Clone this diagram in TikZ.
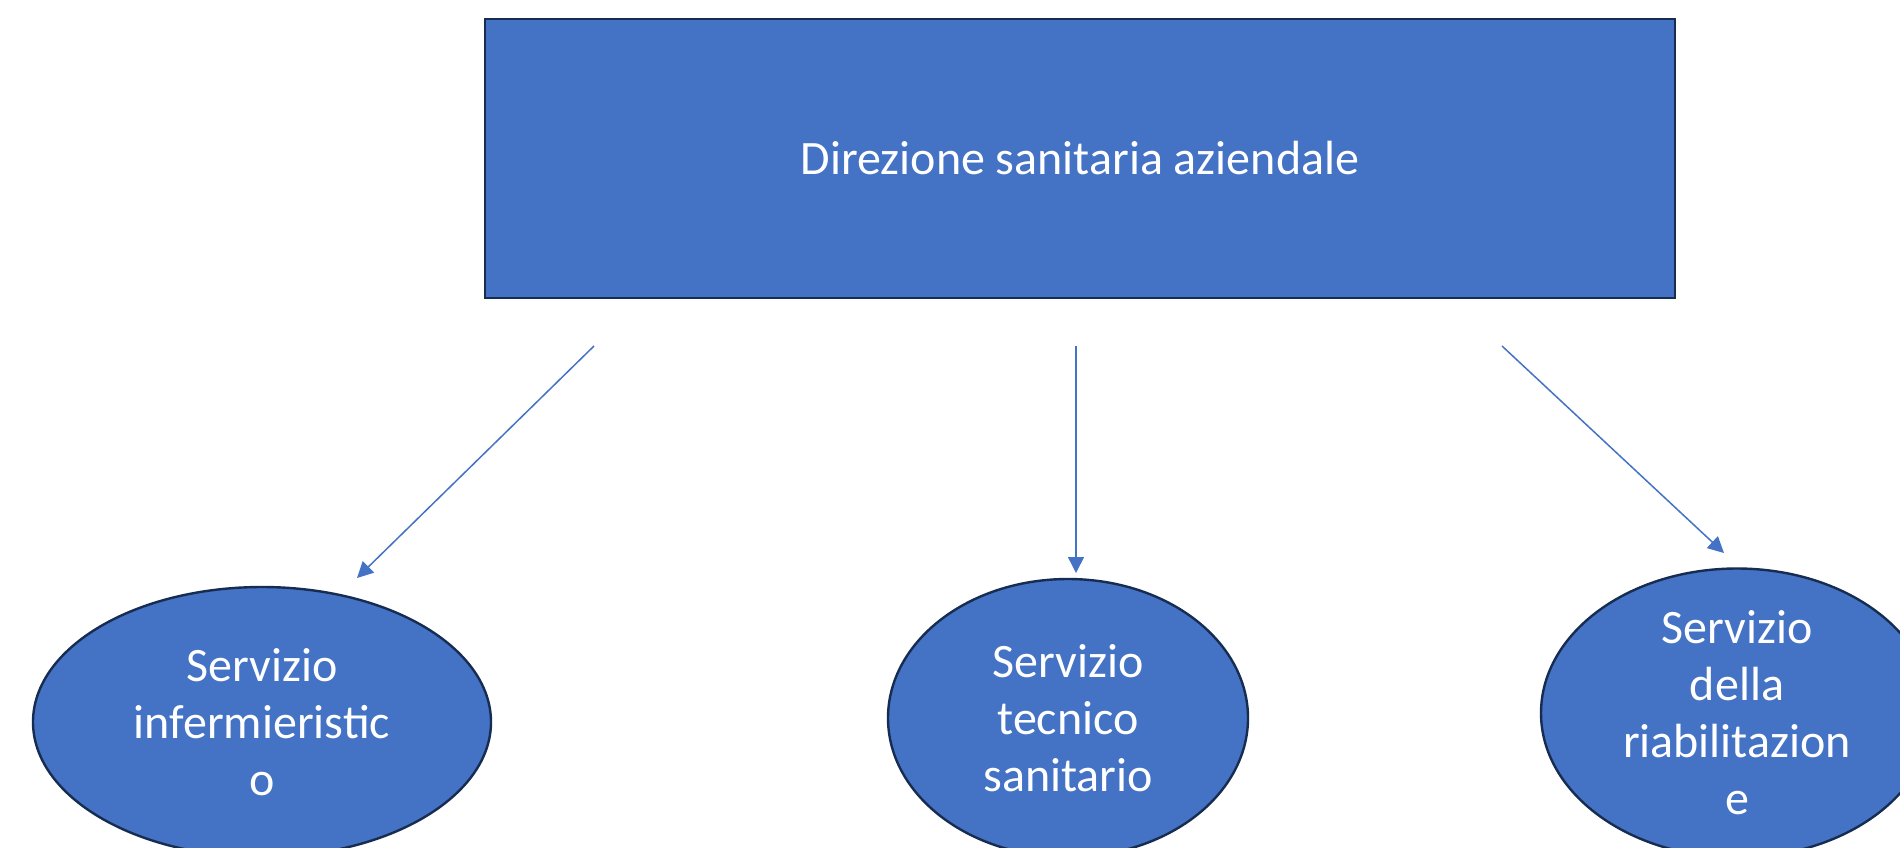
\documentclass[tikz,border=0pt]{standalone}
\usepackage{fontspec}
\setmainfont{Carlito}
\usetikzlibrary{arrows.meta,shapes.geometric}
\definecolor{boxblue}{HTML}{4472C4}
\definecolor{boxedge}{HTML}{172C51}
\tikzset{
  topbox/.style={rectangle, draw=boxedge, line width=1pt, fill=boxblue,
    minimum width=595pt, minimum height=139.5pt, inner sep=0pt,
    text=white, font=\fontsize{24}{28.5}\selectfont},
  service/.style={ellipse, draw=boxedge, line width=1.2pt, fill=boxblue,
    inner sep=0pt, text=white, align=center,
    font=\fontsize{24}{28.5}\selectfont},
  link/.style={draw=boxblue, line width=0.75pt,
    -{Triangle[length=8pt,width=8pt]}}
}
\begin{document}
\begin{tikzpicture}[x=0.5pt,y=-0.5pt]
\useasboundingbox (0,0) rectangle (1900,847);
\clip (0,0) rectangle (1900,847);
\fill[white] (0,0) rectangle (1900,847);

\node[topbox] (dir) at (1080,158) {Direzione sanitaria aziendale};

\node[service, minimum width=229pt, minimum height=135pt] (inf) at (262,722)
  {Servizio\\infermieristic\\o};
\node[service, minimum width=180pt, minimum height=139pt] (tec) at (1068,718)
  {Servizio\\tecnico\\sanitario};
\node[service, minimum width=196pt, minimum height=137pt] (ria) at (1737,713)
  {Servizio\\della\\riabilitazion\\e};

\coordinate (s1) at (594,346);
\coordinate (e1) at (357,578);
\coordinate (s2) at (1076,346);
\coordinate (e2) at (1076,573);
\coordinate (s3) at (1502,346);
\coordinate (e3) at (1724,553);

\draw[link] (s1) -- (e1);
\draw[link] (s2) -- (e2);
\draw[link] (s3) -- (e3);
\end{tikzpicture}
\end{document}
